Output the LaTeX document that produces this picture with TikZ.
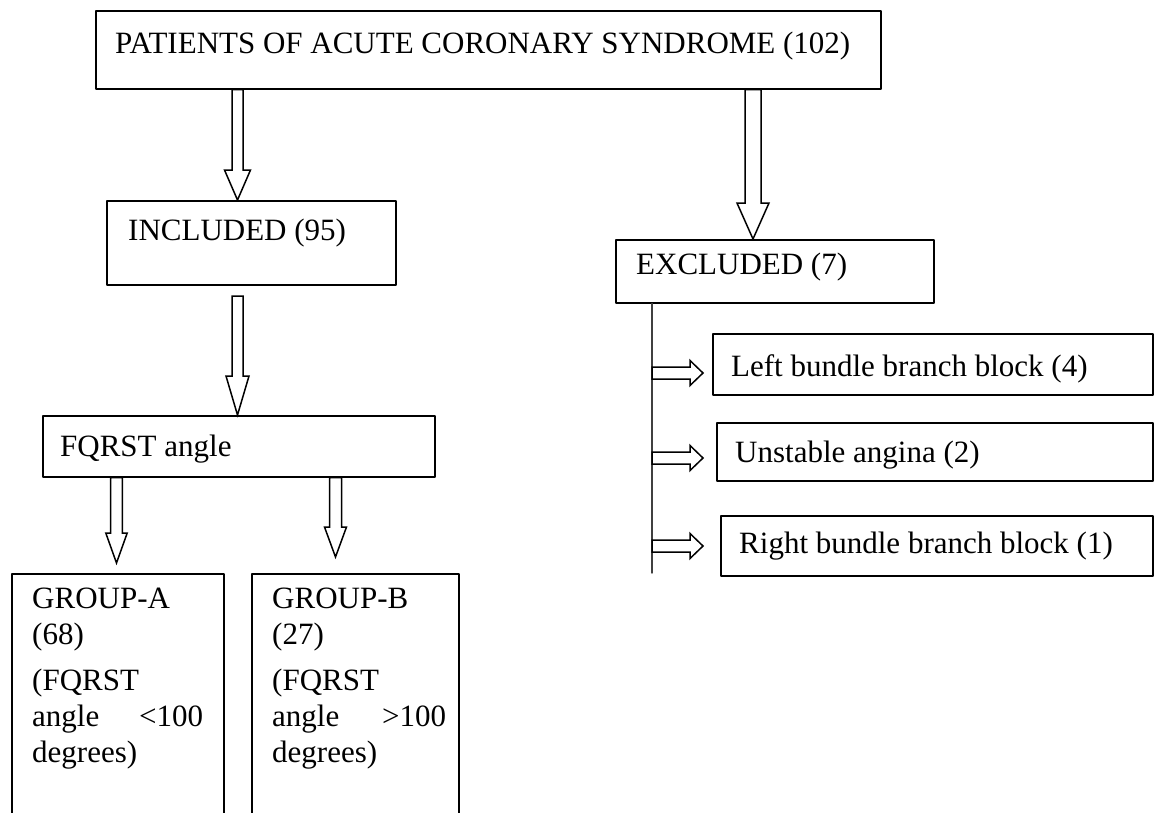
\documentclass[tikz,border=0pt]{standalone}
\usepackage{fontspec}
\setmainfont{Liberation Serif}
\usetikzlibrary{calc}

\tikzset{
  box/.style={draw,line width=1.5pt,anchor=north west,inner sep=0pt},
  lbl/.style={anchor=base west,inner sep=0pt,font=\fontsize{31}{36}\selectfont},
  grp/.style={lbl,align=left},
  harrow/.style={draw,line width=1.5pt,fill=white,line join=miter},
  spine/.style={draw=black!75,line width=1.4pt}
}
% hollow arrow going down: x, from, to, shaft half, head half, head length
\newcommand{\blockdown}[6]{%
\draw[harrow] let \p1=(#2), \p2=(#3) in
  (#1-#4,\y1) -- (#1-#4,\y2+#6) -- (#1-#5,\y2+#6) -- (#1,\y2)
  -- (#1+#5,\y2+#6) -- (#1+#4,\y2+#6) -- (#1+#4,\y1) -- cycle;}
% small hollow arrow going right from the spine: y
\newcommand{\blockright}[1]{%
\draw[harrow] let \p1=(sp) in
  (\x1,#1-6) -- (\x1+38,#1-6) -- (\x1+38,#1-12.5) -- (\x1+51,#1)
  -- (\x1+38,#1+12.5) -- (\x1+38,#1+6) -- (\x1,#1+6) -- cycle;}

\begin{document}
\begin{tikzpicture}[x=1pt,y=-1pt,line cap=round,line join=round]
\useasboundingbox (0,0) rectangle (1154,812);

% boxes
\node[box,minimum width=785,minimum height=78] (pat) at (95,10) {};
\node[box,minimum width=289,minimum height=84] (inc) at (106,200) {};
\node[box,minimum width=318,minimum height=63] (exc) at (615,239) {};
\node[box,minimum width=392,minimum height=61] (fq) at (42,415) {};
\node[box,minimum width=212,minimum height=260] (grpa) at (11,573) {};
\node[box,minimum width=207,minimum height=260] (grpb) at (251,573) {};
\node[box,minimum width=440,minimum height=61] (lbbb) at (712,333) {};
\node[box,minimum width=436,minimum height=58] (ua) at (716,422) {};
\node[box,minimum width=432,minimum height=60] (rbbb) at (720,515) {};

% texts
\node[lbl] (patt) at (115,53) {PATIENTS OF ACUTE CORONARY SYNDROME (102)};
\node[lbl] (inct) at (128,240) {INCLUDED (95)};
\node[lbl] (exct) at (636,274) {EXCLUDED (7)};
\node[lbl] (fqt) at (60,456) {FQRST angle};
\node[grp,text width=171] (grpat) at (32,608)
  {GROUP-A\\(68)\\[10pt](FQRST\\angle\hfill<100\\degrees)};
\node[grp,text width=174] (grpbt) at (272,608)
  {GROUP-B\\(27)\\[10pt](FQRST\\angle\hfill>100\\degrees)};
\node[lbl] (lbbbt) at (731,376) {Left bundle branch block (4)};
\node[lbl] (uat) at (735,462) {Unstable angina (2)};
\node[lbl] (rbbbt) at (739,553) {Right bundle branch block (1)};

% arrows
\coordinate (a3) at (237.5,296);
\coordinate (a4) at (116.5,563);
\coordinate (a5) at (335.5,557);
\coordinate (sp) at (652,573);
\blockdown{237.5}{pat.south}{inc.north}{5.5}{13}{30}
\blockdown{753}{pat.south}{exc.north}{8}{16}{36}
\blockdown{237.5}{a3}{fq.north}{5.5}{11.5}{39}
\blockdown{116.5}{fq.south}{a4}{5.8}{10.7}{30}
\blockdown{335.5}{fq.south}{a5}{6}{11}{30}

% excluded list
\draw[spine] (exc.south -| sp) -- (sp);
\blockright{373}
\blockright{458}
\blockright{546}
\end{tikzpicture}
\end{document}
